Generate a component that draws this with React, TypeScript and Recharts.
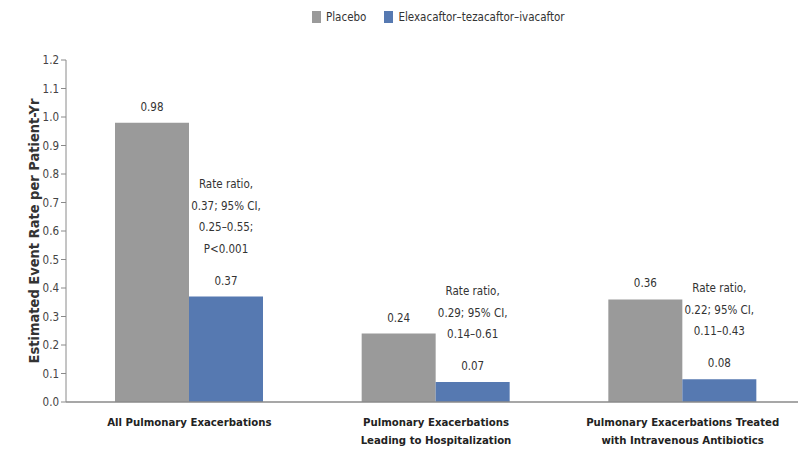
import { BarChart, Bar, XAxis, YAxis, Legend, LabelList, Label } from "recharts";

const categories = [
  "All Pulmonary Exacerbations",
  "Pulmonary Exacerbations\nLeading to Hospitalization",
  "Pulmonary Exacerbations Treated\nwith Intravenous Antibiotics",
];
const placebo = [0.98, 0.24, 0.36];
const elexacaftor = [0.37, 0.07, 0.08];
const rateRatioNotes = [
  ["Rate ratio,", "0.37; 95% CI,", "0.25\u20130.55;", "P<0.001"],
  ["Rate ratio,", "0.29; 95% CI,", "0.14\u20130.61"],
  ["Rate ratio,", "0.22; 95% CI,", "0.11\u20130.43"],
];
const yTicks = [0, 0.1, 0.2, 0.3, 0.4, 0.5, 0.6, 0.7, 0.8, 0.9, 1.0, 1.1, 1.2];

const GREY = "#9a9a9a";
const BLUE = "#5679b1";
const FONT = "'DejaVu Sans Condensed', 'Liberation Sans Narrow', 'Open Sans', sans-serif";

const data = categories.map((name, i) => ({
  name,
  placebo: placebo[i],
  eti: elexacaftor[i],
}));

function ValueLabel(props: any) {
  const { x, y, width, value } = props;
  return (
    <text
      x={x + width / 2}
      y={y - 16}
      textAnchor="middle"
      dominantBaseline="central"
      fontSize={11.5}
      fill="#333"
      fontFamily={FONT}
    >
      {Number(value).toFixed(2)}
    </text>
  );
}

// value on top of the bar plus the rate-ratio note stacked above it
function EtiLabel(props: any) {
  const { x, y, width, value, index } = props;
  const cx = x + width / 2;
  const lines = rateRatioNotes[index] || [];
  const lastY = y - 48;
  return (
    <g fontFamily={FONT} fontSize={11.5} fill="#333">
      <text x={cx} y={y - 16} textAnchor="middle" dominantBaseline="central">
        {Number(value).toFixed(2)}
      </text>
      {lines.map((t, k) => (
        <text
          key={k}
          x={cx}
          y={lastY - (lines.length - 1 - k) * 21.5}
          textAnchor="middle"
          dominantBaseline="central"
        >
          {t}
        </text>
      ))}
    </g>
  );
}

function CategoryTick(props: any) {
  const { x, y, payload } = props;
  const parts = String(payload.value).split("\n");
  return (
    <g>
      {parts.map((p, k) => (
        <text
          key={k}
          x={x}
          y={y + 12 + k * 18}
          textAnchor="middle"
          dominantBaseline="central"
          fontSize={11.3}
          fontWeight="bold"
          fill="#222"
          fontFamily={FONT}
        >
          {p}
        </text>
      ))}
    </g>
  );
}

function LegendBox() {
  const item = (color: string, label: string) => (
    <span style={{ display: "inline-flex", alignItems: "center", marginRight: 18 }}>
      <span style={{ width: 9, height: 12, background: color, display: "inline-block", marginRight: 5 }} />
      <span>{label}</span>
    </span>
  );
  return (
    <div style={{ fontFamily: FONT, fontSize: 11.5, color: "#333", whiteSpace: "nowrap" }}>
      {item(GREY, "Placebo")}
      {item(BLUE, "Elexacaftor\u2013tezacaftor\u2013ivacaftor")}
    </div>
  );
}

export default function App() {
  return (
    <div
      style={{
        position: "absolute",
        left: 0,
        top: 0,
        width: 798,
        height: 452,
        overflow: "hidden",
        background: "#fff",
      }}
    >
      <BarChart
        width={806}
        height={452}
        data={data}
        margin={{ top: 44, right: 0, bottom: 0, left: 0 }}
        barCategoryGap={49}
        barGap={0}
      >
        <Legend
          verticalAlign="top"
          content={<LegendBox />}
          wrapperStyle={{ top: 10, left: 312, width: 320 }}
        />
        <YAxis
          width={66}
          domain={[0, 1.2]}
          ticks={yTicks}
          interval={0}
          tickFormatter={(v: number) => v.toFixed(1)}
          axisLine={{ stroke: "#8a8a8a" }}
          tickLine={{ stroke: "#8a8a8a" }}
          tickSize={5}
          tick={{ fontSize: 11.5, fill: "#444", fontFamily: FONT }}
        >
          <Label
            value="Estimated Event Rate per Patient-Yr"
            angle={-90}
            position="insideLeft"
            offset={34}
            style={{ fontSize: 14.5, fontWeight: "bold", fill: "#333", fontFamily: FONT, textAnchor: "middle" }}
          />
        </YAxis>
        <XAxis
          dataKey="name"
          height={50}
          axisLine={{ stroke: "#8a8a8a", strokeWidth: 1.5 }}
          tickLine={false}
          interval={0}
          tick={<CategoryTick />}
        />
        <Bar dataKey="placebo" name="Placebo" fill={GREY} isAnimationActive={false}>
          <LabelList dataKey="placebo" content={<ValueLabel />} />
        </Bar>
        <Bar dataKey="eti" name="Elexacaftor–tezacaftor–ivacaftor" fill={BLUE} isAnimationActive={false}>
          <LabelList dataKey="eti" content={<EtiLabel />} />
        </Bar>
      </BarChart>
    </div>
  );
}
